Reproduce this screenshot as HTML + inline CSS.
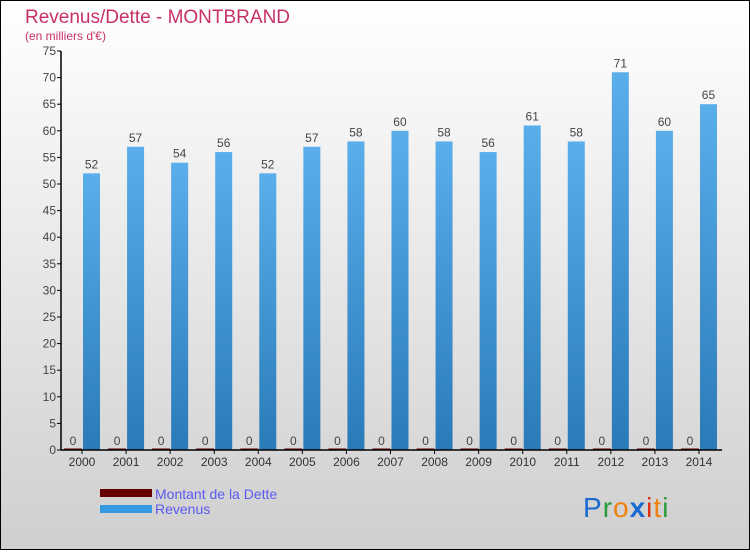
<!DOCTYPE html>
<html><head><meta charset="utf-8"><style>
body{margin:0;}
#c{width:750px;height:550px;position:relative;}
svg text{font-family:"Liberation Sans",sans-serif;}
</style></head><body>
<div id="c">
<svg id="s" width="750" height="550" xmlns="http://www.w3.org/2000/svg">
<defs>
<linearGradient id="bg" x1="0" y1="0" x2="0" y2="1"><stop offset="0" stop-color="#ffffff"/><stop offset="1" stop-color="#cfcfcf"/></linearGradient>
<linearGradient id="rev" x1="0" y1="0" x2="0" y2="1"><stop offset="0" stop-color="#5aaeea"/><stop offset="1" stop-color="#2a7ab8"/></linearGradient>
</defs>
<rect x="0.5" y="0.5" width="749" height="549" fill="url(#bg)" stroke="#000"/>
<text x="25" y="23" font-size="19" fill="#c8306a">Revenus/Dette - MONTBRAND</text>
<text x="25" y="40" font-size="12" fill="#c8306a">(en milliers d'€)</text>
<g id="grid"></g>
<g id="bars"></g>
<g id="axes"></g>
<g>
<rect x="100" y="489" width="52" height="8" fill="#660000"/>
<text x="155" y="499" font-size="14" fill="#5a5af0">Montant de la Dette</text>
<rect x="100" y="505" width="52" height="8" fill="#3399e0"/>
<text x="155" y="514" font-size="14" fill="#5a5af0">Revenus</text>
</g>
<g font-size="28">
<text x="583" y="517" letter-spacing="1"><tspan fill="#1a6ad0">P</tspan><tspan fill="#2a9a3a">r</tspan><tspan fill="#f08010">o</tspan><tspan fill="#1a6ad0" font-weight="bold">x</tspan><tspan fill="#e03010">i</tspan><tspan fill="#f08010">t</tspan><tspan fill="#2a9a3a">i</tspan></text>
</g>
</svg></div>
<script>
const years=["2000","2001","2002","2003","2004","2005","2006","2007","2008","2009","2010","2011","2012","2013","2014"];
const revenus=[52,57,54,56,52,57,58,60,58,56,61,58,71,60,65];
const dette=[0,0,0,0,0,0,0,0,0,0,0,0,0,0,0];
const yTicks=[0,5,10,15,20,25,30,35,40,45,50,55,60,65,70,75];
const NS="http://www.w3.org/2000/svg";
const x0=61,band=44.07,y0=450,yPer=(450-51)/75;
const y=v=>y0-v*yPer;
const cx=i=>x0+21+i*band;
function mk(t,a,p){const e=document.createElementNS(NS,t);for(const k in a)e.setAttribute(k,a[k]);p.appendChild(e);return e;}
const bars=document.getElementById('bars'),axes=document.getElementById('axes');
years.forEach((yr,i)=>{
 const c=cx(i);
 const d=mk('rect',{x:c-18,y:y(dette[i])-1.5,width:18,height:Math.max(1.5,y0-y(dette[i])),fill:'#660000'},bars);
 
 
 const r=mk('rect',{x:c+1,y:y(revenus[i]),width:17,height:y0-y(revenus[i]),fill:'url(#rev)'},bars);
 
 
 const t1=mk('text',{x:c-9,y:y(dette[i])-5,'font-size':12,fill:'#444','text-anchor':'middle'},bars);t1.textContent=dette[i];
 
 
 const t2=mk('text',{x:c+9.5,y:y(revenus[i])-5,'font-size':12,fill:'#444','text-anchor':'middle'},bars);t2.textContent=revenus[i];
 
 
 mk('line',{x1:c,x2:c,y1:y0,y2:y0+4,stroke:'#000'},axes);
 const xl=mk('text',{x:c,y:466,'font-size':12,fill:'#333','text-anchor':'middle'},axes);xl.textContent=yr;
 
 
});
yTicks.forEach(v=>{
 mk('line',{x1:x0-4,x2:x0,y1:y(v),y2:y(v),stroke:'#000'},axes);
 const t=mk('text',{x:x0-5,y:y(v)+4,'font-size':12,fill:'#444','text-anchor':'end'},axes);t.textContent=v;
 
 
});
const ya=mk('line',{x1:x0,x2:x0,y1:y0,y2:51,stroke:'#000','stroke-width':1.5},axes);


const xa=mk('line',{x1:x0,x2:x0+15*band,y1:y0,y2:y0,stroke:'#000','stroke-width':1.5},axes);


</script>
</body></html>
